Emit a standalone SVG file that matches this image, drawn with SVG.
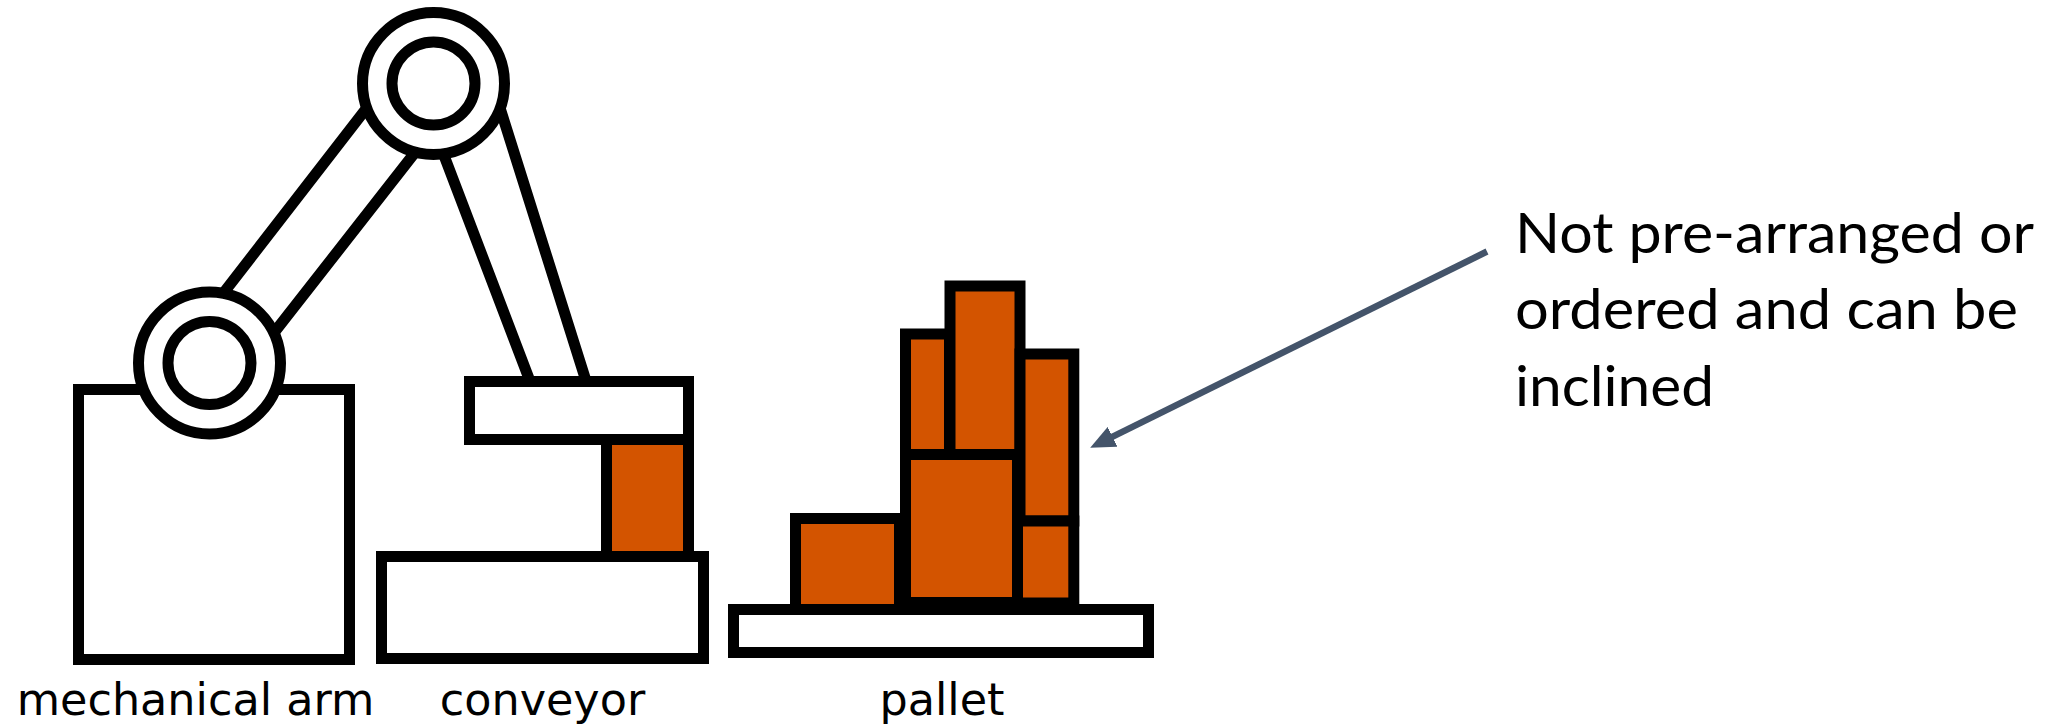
<svg xmlns="http://www.w3.org/2000/svg" width="2047" height="726" viewBox="0 0 2047 726">
  <style>
    .part { fill: #ffffff; stroke: #000000; stroke-width: 11; stroke-linejoin: miter; }
    .load { fill: #d35400; stroke: #000000; stroke-width: 11; }
    .lbl { font-family: "DejaVu Sans", sans-serif; font-size: 44.5px; fill: #000000; text-anchor: middle; }
    .note { font-family: Lato, "Open Sans", sans-serif; font-size: 56px; fill: #000000; }
    .pointer { fill: none; stroke: #44546a; stroke-width: 6.5; }
  </style>
  <defs>
    <marker id="head" markerUnits="userSpaceOnUse" viewBox="0 0 25 22" markerWidth="25" markerHeight="22" refX="1" refY="11" orient="auto">
      <path d="M0,0 L25,11 L0,22 z" fill="#44546a"/>
    </marker>
  </defs>

  <rect width="2047" height="726" fill="#ffffff"/>

  <!-- robot: base, two links, two joints -->
  <g id="mechanical-arm">
    <rect class="part" x="78.5" y="389.5" width="271" height="270"/>
    <polygon class="part" points="169.2,363 385.7,83.5 469,83.5 250.3,363"/>
    <polygon class="part" points="416.6,83.5 492.3,83.5 586.2,381.5 530.1,381.5"/>
    <circle class="part" cx="209.5" cy="363" r="71"/>
    <circle class="part" cx="209.5" cy="363" r="41.5"/>
    <circle class="part" cx="433.5" cy="83.5" r="71"/>
    <circle class="part" cx="433.5" cy="83.5" r="41.5"/>
    <text class="lbl" x="195.5" y="715">mechanical arm</text>
  </g>

  <!-- conveyor with gripper and the carried box -->
  <g id="conveyor">
    <rect class="load" x="606.5" y="439.5" width="82" height="117"/>
    <rect class="part" x="469.5" y="381.5" width="219" height="58"/>
    <rect class="part" x="381.5" y="556.5" width="322" height="102"/>
    <text class="lbl" x="542.5" y="715">conveyor</text>
  </g>

  <!-- pallet with stacked boxes -->
  <g id="pallet">
    <rect class="part" x="733.5" y="609.5" width="415" height="43"/>
    <rect class="load" x="795.5" y="518.5" width="104" height="91"/>
    <rect class="load" x="905.5" y="454.5" width="112" height="148"/>
    <rect class="load" x="905.5" y="334" width="44" height="120.5"/>
    <rect class="load" x="950" y="286" width="70" height="168.5"/>
    <rect class="load" x="1020" y="354" width="53.8" height="167"/>
    <rect class="load" x="1017.5" y="521" width="56.3" height="82"/>
    <text class="lbl" x="942" y="715">pallet</text>
  </g>

  <!-- annotation text -->
  <g id="note">
    <text class="note" x="1515" y="252.7" textLength="519" lengthAdjust="spacingAndGlyphs">Not pre-arranged or</text>
    <text class="note" x="1515" y="329.3" textLength="503" lengthAdjust="spacingAndGlyphs">ordered and can be</text>
    <text class="note" x="1515" y="406" textLength="199" lengthAdjust="spacingAndGlyphs">inclined</text>
  </g>

  <g id="connectors">
    <line class="pointer" x1="1487" y1="251.5" x2="1111.7" y2="437.2" marker-end="url(#head)"/>
  </g>
</svg>
